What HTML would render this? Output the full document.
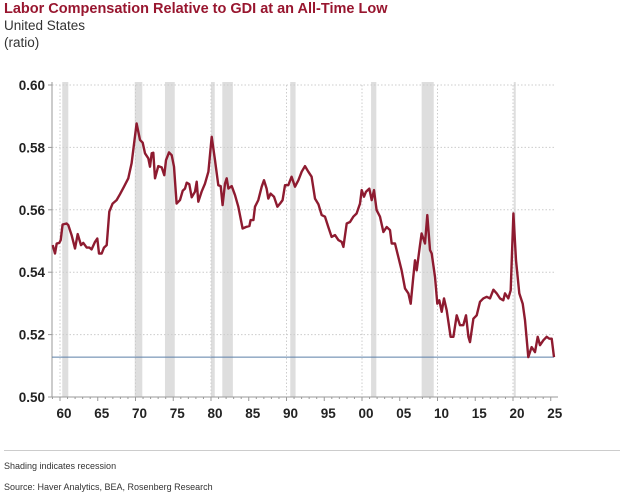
<!DOCTYPE html>
<html><head><meta charset="utf-8"><style>
body{margin:0;width:624px;height:493px;background:#fff;font-family:"Liberation Sans",sans-serif;overflow:hidden;position:relative}
.t{position:absolute;left:4px;white-space:nowrap}
</style></head><body>
<div class="t" style="top:1px;font-size:14.5px;font-weight:bold;color:#98162f">Labor Compensation Relative to GDI at an All-Time Low</div>
<div class="t" style="top:18px;font-size:13.5px;color:#333">United States</div>
<div class="t" style="top:35px;font-size:13.5px;color:#333">(ratio)</div>
<svg id="c" width="624" height="493" style="position:absolute;left:0;top:0" xmlns="http://www.w3.org/2000/svg"></svg>
<div style="position:absolute;left:4px;top:450px;width:616px;height:1px;background:#ccc"></div>
<div class="t" style="top:461px;font-size:9px;color:#333">Shading indicates recession</div>
<div class="t" style="top:482px;font-size:9px;color:#333">Source: Haver Analytics, BEA, Rosenberg Research</div>
<script>
const years=[1959.03,1959.34,1959.56,1959.91,1960.09,1960.35,1960.88,1961.10,1961.54,1961.99,1962.34,1962.78,1963.09,1963.53,1963.89,1964.19,1964.63,1964.94,1965.16,1965.52,1965.83,1966.18,1966.53,1966.97,1967.50,1967.95,1968.48,1969.05,1969.49,1970.15,1970.60,1970.95,1971.26,1971.70,1971.92,1972.14,1972.36,1972.58,1973.02,1973.47,1973.82,1974.04,1974.44,1974.79,1975.10,1975.45,1975.89,1976.25,1976.56,1976.78,1977.13,1977.44,1977.88,1978.10,1978.32,1978.76,1979.21,1979.65,1980.09,1980.53,1980.97,1981.28,1981.54,1981.85,1982.08,1982.30,1982.74,1983.18,1983.62,1984.19,1984.64,1985.08,1985.25,1985.61,1985.83,1986.27,1986.71,1987.02,1987.37,1987.59,1987.90,1988.34,1988.79,1989.14,1989.49,1989.80,1990.24,1990.68,1991.12,1991.57,1992.01,1992.45,1992.89,1993.33,1993.78,1994.22,1994.66,1995.10,1995.54,1995.98,1996.42,1996.87,1997.31,1997.53,1997.97,1998.41,1998.85,1999.29,1999.74,1999.96,2000.27,2000.53,2000.97,2001.28,2001.59,2001.94,2002.38,2002.83,2003.27,2003.71,2003.93,2004.37,2004.81,2005.25,2005.70,2006.14,2006.45,2006.80,2007.02,2007.24,2007.68,2007.90,2008.35,2008.65,2009.01,2009.23,2009.67,2009.98,2010.24,2010.55,2010.86,2011.22,2011.44,2011.74,2012.10,2012.54,2012.98,2013.42,2013.78,2014.09,2014.31,2014.75,2015.19,2015.63,2016.07,2016.51,2016.95,2017.40,2017.84,2018.28,2018.72,2018.94,2019.38,2019.69,2020.05,2020.40,2020.84,2021.28,2021.59,2022.03,2022.47,2022.92,2023.27,2023.58,2024.02,2024.46,2024.81,2025.12,2025.43];
const ratio=[.5487,.5460,.5492,.5494,.5503,.5553,.5556,.5551,.5519,.5476,.5522,.5487,.5494,.5479,.5479,.5473,.5497,.5508,.5460,.5460,.5479,.5487,.5594,.5620,.5631,.5650,.5674,.5701,.5749,.5877,.5824,.5815,.5781,.5765,.5738,.5781,.5783,.5701,.5740,.5736,.5711,.5759,.5784,.5775,.5738,.5620,.5631,.5661,.5668,.5687,.5682,.5640,.5658,.5690,.5626,.5658,.5684,.5722,.5834,.5759,.5679,.5676,.5615,.5684,.5701,.5668,.5676,.5647,.5610,.5540,.5545,.5548,.5567,.5567,.5610,.5631,.5674,.5695,.5668,.5636,.5652,.5642,.5610,.5620,.5631,.5679,.5679,.5706,.5674,.5695,.5722,.5740,.5722,.5706,.5636,.5618,.5583,.5578,.5545,.5513,.5519,.5503,.5497,.5481,.5556,.5561,.5578,.5588,.5620,.5663,.5642,.5658,.5668,.5631,.5663,.5599,.5578,.5529,.5545,.5535,.5492,.5492,.5449,.5406,.5348,.5332,.5299,.5385,.5438,.5406,.5487,.5524,.5492,.5583,.5471,.5460,.5385,.5299,.5310,.5273,.5316,.5278,.5241,.5193,.5193,.5262,.5230,.5230,.5262,.5193,.5176,.5251,.5262,.5305,.5316,.5321,.5316,.5344,.5332,.5316,.5310,.5332,.5316,.5342,.5588,.5438,.5332,.5299,.5246,.5128,.5160,.5144,.5193,.5166,.5182,.5193,.5187,.5187,.5128];
const recStart=[1960.3,1969.9,1973.9,1980.0,1981.5,1990.5,2001.2,2007.9,2020.1];
const recEnd=[1961.1,1970.9,1975.2,1980.5,1982.9,1991.2,2001.9,2009.5,2020.3];
const yTicks=[0.50,0.52,0.54,0.56,0.58,0.60];
const xTickYears=[1960,1965,1970,1975,1980,1985,1990,1995,2000,2005,2010,2015,2020,2025];
const xTickLabels=["60","65","70","75","80","85","90","95","00","05","10","15","20","25"];
const lowLine=0.5128;
const X0=52,X1=554,Y0=397,Y1=85;
const x=y=>60+(y-1960)*7.55;
const yv=v=>Y0-(v-0.50)/0.10*(Y0-Y1);
const svg=document.getElementById('c');
const NS='http://www.w3.org/2000/svg';
function mk(t,a){const e=document.createElementNS(NS,t);for(const k in a)e.setAttribute(k,a[k]);svg.appendChild(e);return e;}
recStart.forEach((s,i)=>{const r=mk('rect',{x:x(s),y:Y1-3,width:Math.max(2,x(recEnd[i])-x(s)),height:Y0-Y1+3,fill:'#dedede'});

});
yTicks.forEach((v,i)=>{if(i>0){const g=mk('line',{x1:X0,x2:X1,y1:yv(v),y2:yv(v),stroke:'#ccc','stroke-dasharray':'1.5,2'});

}
mk('line',{x1:X0-4,x2:X0,y1:yv(v),y2:yv(v),stroke:'#999'});
const t=mk('text',{x:45,y:yv(v)+5,'text-anchor':'end','font-size':'13.5','font-weight':'bold',fill:'#222'});t.textContent=v.toFixed(2);

});
xTickYears.forEach((yr,i)=>{if(yr%10===0){const g=mk('line',{x1:x(yr),x2:x(yr),y1:Y1,y2:Y0,stroke:'#ccc','stroke-dasharray':'1.5,2'});

}
const t=mk('text',{x:x(yr)+4,y:418,'text-anchor':'middle','font-size':'13.5','font-weight':'bold',fill:'#222'});t.textContent=xTickLabels[i];

});
for(let yr=1959;yr<=2025;yr++){mk('line',{x1:x(yr),x2:x(yr),y1:Y0,y2:Y0+(yr%5===0?4:2),stroke:'#999'});}
mk('line',{x1:X0,x2:X0,y1:Y1-3,y2:Y0,stroke:'#999'});
mk('line',{x1:X0,x2:X1+4,y1:Y0,y2:Y0,stroke:'#999'});
const ll=mk('line',{x1:X0,x2:X1,y1:yv(lowLine),y2:yv(lowLine),stroke:'#5b7fa8','stroke-width':1});


const p=mk('path',{d:years.map((yr,i)=>(i?'L':'M')+x(yr).toFixed(1)+','+yv(ratio[i]).toFixed(1)).join(''),fill:'none',stroke:'#8e1b30','stroke-width':2.4,'stroke-linejoin':'round'});


</script>
</body></html>
